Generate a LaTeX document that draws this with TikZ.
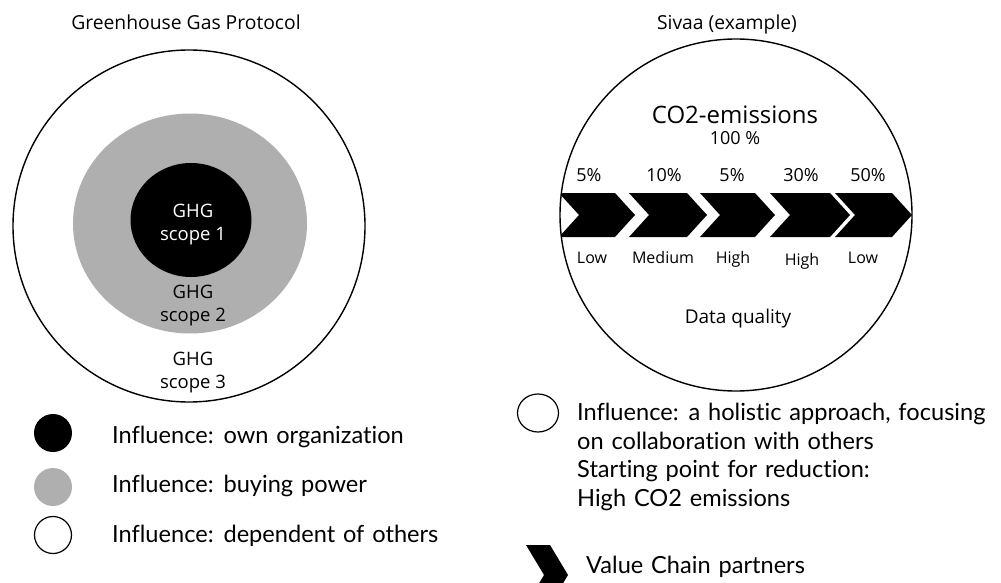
\documentclass[tikz,border=0pt]{standalone}
\usepackage{fontspec}
\setmainfont{Open Sans}
\newfontfamily\legendfont{Lato}[WordSpace=1.3,Ligatures=NoCommon]
\definecolor{scopegray}{RGB}{175,175,175}
\begin{document}
\begin{tikzpicture}[x=1pt,y=-1pt,
  ring/.style={draw=black,line width=1.4pt},
  title/.style={anchor=base,inner sep=0pt,font=\fontsize{19.3}{23}\selectfont},
  scopetext/.style={align=center,inner sep=0pt,font=\fontsize{18.5}{23}\selectfont},
  pct/.style={anchor=base,inner sep=0pt,font=\fontsize{18}{22}\selectfont},
  quality/.style={anchor=base,inner sep=0pt,font=\fontsize{16}{19}\selectfont},
  legend/.style={anchor=base west,inner sep=0pt,font=\legendfont\fontsize{23.6}{28.5}\selectfont},
  chev/.style={fill=black},
]
\clip (0,0) rectangle (1001,583);
\fill[white] (0,0) rectangle (1001,583);

% ---- Greenhouse Gas Protocol: nested scopes ----
\node[title] (ghgtitle) at (186,30) {Greenhouse Gas Protocol};
\draw[ring] (189,226) circle[radius=176pt];
\fill[scopegray] (190,223.5) ellipse[x radius=117pt,y radius=110pt];
\fill[black] (191,220) ellipse[x radius=60.5pt,y radius=57pt];
\node[scopetext,text=white] (scope1) at (193,224.1) {GHG\\scope 1};
\node[scopetext] (scope2) at (193,305.1) {GHG\\scope 2};
\node[scopetext] (scope3) at (193,372.6) {GHG\\scope 3};

% ---- Sivaa example: value chain ----
\node[title] (sivaatitle) at (727,30) {Sivaa (example)};
\begin{scope}
  \clip (736,215) circle[radius=176pt];
  \foreach \n/\t in {579/635,649/707,720/775,790/850,855/912}{
    \fill[chev] (\n-20,193) -- (\t-20,193) -- (\t,215) -- (\t-20,237)
      -- (\n-20,237) -- (\n,215) -- cycle;
  }
\end{scope}
\draw[ring] (736,215) circle[radius=176pt];
\node[anchor=base,inner sep=0pt,font=\fontsize{24}{28}\selectfont] (co2) at (735,124) {CO2-emissions};
\node[pct] (total) at (735,145) {100 \%};
\node[pct] (p1) at (589,181) {5\%};
\node[pct] (p2) at (664,181) {10\%};
\node[pct] (p3) at (732,181) {5\%};
\node[pct] (p4) at (801,181) {30\%};
\node[pct] (p5) at (868,181) {50\%};
\node[quality] (q1) at (592,263) {Low};
\node[quality] (q2) at (663,263) {Medium};
\node[quality] (q3) at (733,263) {High};
\node[quality] (q4) at (802,265) {High};
\node[quality] (q5) at (863,263) {Low};
\node[anchor=base,inner sep=0pt,font=\fontsize{19}{23}\selectfont] (dq) at (738,323) {Data quality};

% ---- Left legend ----
\fill[black] (53,433) circle[radius=19pt];
\fill[scopegray] (53,487) circle[radius=19pt];
\draw[black,line width=1.2pt] (53,535) circle[radius=18.5pt];
\node[legend] (lg1) at (112,443) {Influence: own organization};
\node[legend] (lg2) at (112,492) {Influence: buying power};
\node[legend] (lg3) at (112,542) {Influence: dependent of others};

% ---- Right legend ----
\draw[black,line width=1.2pt] (538,413) ellipse[x radius=20.5pt,y radius=19pt];
\node[legend,anchor=north west,align=left] (lg4) at (577,403)
  {Influence: a holistic approach, focusing\\on collaboration with others\\Starting point for reduction:\\High CO2 emissions};
\fill[chev] (526,545) -- (550,545) -- (568,575) -- (550,605) -- (526,605) -- (544,575) -- cycle;
\node[legend] (lg5) at (586,573) {Value Chain partners};
\end{tikzpicture}
\end{document}
